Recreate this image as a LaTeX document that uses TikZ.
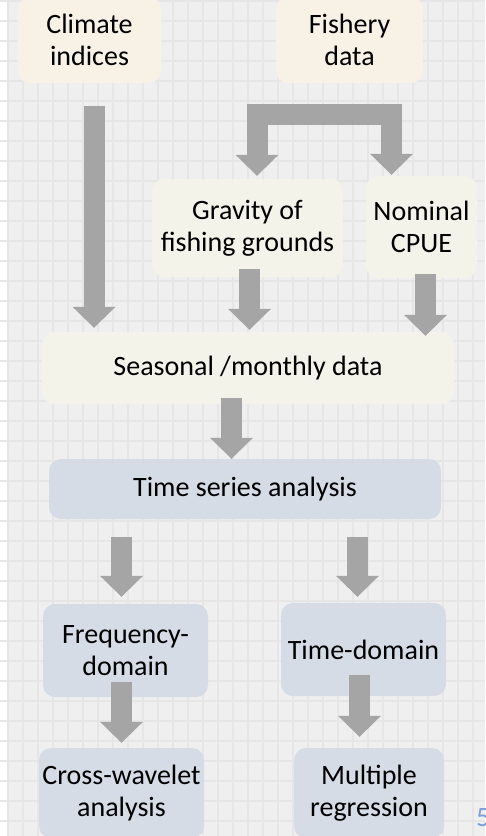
\documentclass[tikz,border=0pt]{standalone}
\usepackage{fontspec}
\setmainfont{Carlito}
\usetikzlibrary{positioning,arrows.meta}
\definecolor{bggray}{HTML}{EFEFEF}
\definecolor{gridgray}{HTML}{E6E6E6}
\definecolor{creamfill}{HTML}{F8F2E6}
\definecolor{ivoryfill}{HTML}{F3F3EA}
\definecolor{bluefill}{HTML}{D5DCE6}
\definecolor{arrowgray}{HTML}{A5A5A5}
\definecolor{pagenum}{HTML}{7F9FD8}
\tikzset{blocktip/.tip={Triangle[width=43pt, length=21pt, line width=0pt]}}

\begin{document}
\begin{tikzpicture}[x = 1pt, y = -1pt, every text node part/.style = {align = center},
  box/.style = {rounded corners = 12pt, inner sep = 0pt, font = \fontsize{28}{32}\selectfont},
  datasrc/.style = {box, fill = creamfill},
  derived/.style = {box, fill = ivoryfill},
  method/.style = {box, fill = bluefill},
  gridline/.style = {draw = gridgray, line width = 2pt},
  bigarrow/.style = {draw = arrowgray, line width = 21pt, -blocktip}]
	\useasboundingbox (0,0) rectangle (485,836);
	\fill[white] (0,0) rectangle (485,836);
	\fill[bggray] (7,0) rectangle (485,836);
	\foreach \gx in {8,23,...,483} \draw[gridline] (\gx,0) -- (\gx,836);
	\foreach \gy in {1,21,...,821} \draw[gridline] (0,\gy) -- (485,\gy);

	\node[datasrc, minimum width = 143pt, minimum height = 86pt] (clim) at (89.5,40) {Climate\\indices};
	\node[datasrc, minimum width = 147pt, minimum height = 86pt] (fish) at (349.5,40) {Fishery\\data};
	\node[derived, minimum width = 191pt, minimum height = 98pt] (grav) at (247.5,228) {Gravity of\\fishing grounds};
	\node[derived, minimum width = 111pt, minimum height = 102pt] (nom) at (421.5,227) {Nominal\\CPUE};
	\node[derived, minimum width = 412pt, minimum height = 72pt] (seas) at (248,368) {Seasonal /monthly data};
	\node[method, minimum width = 392pt, minimum height = 60pt] (tsa) at (245,489) {Time series analysis};
	\node[method, minimum width = 165pt, minimum height = 93pt] (freq) at (125.5,650.5) {Frequency-\\domain};
	\node[method, minimum width = 165pt, minimum height = 93pt] (tdom) at (363.5,649.5) {Time-domain};
	\node[method, minimum width = 165pt, minimum height = 90pt] (cross) at (121.5,793) {Cross-wavelet\\analysis};
	\node[method, minimum width = 150pt, minimum height = 90pt] (mreg) at (369,793) {Multiple\\regression};
	\node[anchor = north west, inner sep = 0pt, text = pagenum, font = \fontsize{28}{32}\selectfont] (pgno) at (476,808) {5};

	\coordinate (fork) at ([yshift = -31.5pt]fish.south);
	\draw[bigarrow, blocktip-blocktip] ([xshift = 9.5pt, yshift = 3pt]grav.north) |- (fork) -| ([xshift = -30pt, yshift = 1pt]nom.north);
	\draw[bigarrow] ([xshift = 4.5pt, yshift = -23pt]clim.south) -- ([xshift = 4.5pt, yshift = 4pt]clim.south |- seas.north);
	\draw[bigarrow] ([xshift = 2pt, yshift = 8pt]grav.south) -- ([xshift = 2pt, yshift = 2pt]grav.south |- seas.north);
	\draw[bigarrow] ([xshift = 4pt, yshift = 4pt]nom.south) -- ([xshift = 4pt, yshift = -4pt]nom.south |- seas.north);
	\draw[bigarrow] ([xshift = -16.5pt, yshift = 6pt]seas.south) -- ([xshift = -16.5pt]seas.south |- tsa.north);
	\draw[bigarrow] ([xshift = -4pt, yshift = -18pt]tsa.south -| freq.north) -- ([xshift = -4pt, yshift = 7pt]freq.north);
	\draw[bigarrow] ([xshift = -6pt, yshift = -18pt]tsa.south -| tdom.north) -- ([xshift = -6pt, yshift = 6pt]tdom.north);
	\draw[bigarrow] ([xshift = -4pt, yshift = 15pt]freq.south) -- ([xshift = -4pt, yshift = 5pt]freq.south |- cross.north);
	\draw[bigarrow] ([xshift = -4pt, yshift = 21pt]tdom.south) -- ([xshift = -4pt, yshift = 11pt]tdom.south |- mreg.north);
\end{tikzpicture}
\end{document}
